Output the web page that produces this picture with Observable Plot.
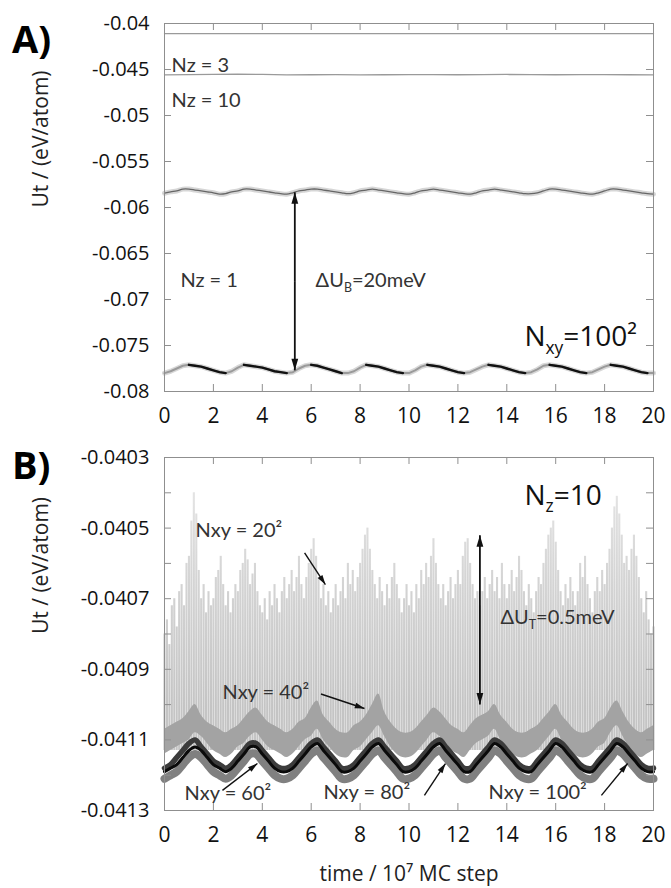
<!DOCTYPE html>
<html><head><meta charset="utf-8">
<script src="https://cdn.jsdelivr.net/npm/d3@7"></script>
<script src="https://cdn.jsdelivr.net/npm/@observablehq/plot@0.6"></script>
<style>
body{margin:0;background:#fff;}
#wrap{position:relative;width:671px;height:888px;overflow:hidden;background:#fff;}
.panel{position:absolute;left:0;}
.letter{position:absolute;font-family:"Open Sans",sans-serif;font-weight:700;font-size:38px;line-height:1;color:#000;z-index:5;}
</style></head><body>
<div id="wrap">
  <div id="pa" class="panel" style="top:0"></div>
  <div id="pb" class="panel" style="top:440px"></div>
  <div class="letter" style="left:12px;top:19px">A)</div>
  <div class="letter" style="left:12px;top:445px">B)</div>
</div>
<script>
// ---------------- DATA ----------------
const xTicks = [0, 2, 4, 6, 8, 10, 12, 14, 16, 18, 20];
const yTicksA = [-0.04, -0.045, -0.05, -0.055, -0.06, -0.065, -0.07, -0.075, -0.08];
const yTicksB = [-0.0403, -0.0405, -0.0407, -0.0409, -0.0411, -0.0413];
const yMinorB = [-0.0403, -0.0404, -0.0405, -0.0406, -0.0407, -0.0408, -0.0409, -0.041, -0.0411, -0.0412, -0.0413];
const yTitle = "Ut / (eV/atom)";
const xTitle = "time / 10⁷ MC step";

// Panel A: Nz = 3 (top flat line), time step 2
const nz3 = [-0.0411, -0.0411, -0.0411, -0.0411, -0.0411, -0.0411, -0.0411, -0.0411, -0.0411, -0.0411, -0.0411];
// Panel A: Nz = 10, time step 1
const nz10 = [-0.04558,-0.04556,-0.04552,-0.0455,-0.04554,-0.04558,-0.04557,-0.04556,-0.04558,-0.04557,-0.04556,
              -0.04555,-0.04557,-0.04556,-0.04554,-0.04556,-0.04557,-0.04555,-0.04556,-0.04557,-0.04558];
// Panel A: Nz = 1 upper and lower curves, time step 0.25
const nz1Top = [
 -0.05845,-0.0583,-0.0582,-0.058,-0.058,-0.0581,-0.0582,-0.0583,-0.0584,-0.05855,
 -0.0585,-0.0583,-0.0582,-0.058,-0.058,-0.0581,-0.0582,-0.0583,-0.0584,-0.0585,
 -0.05855,-0.0584,-0.0582,-0.0581,-0.058,-0.058,-0.0581,-0.0582,-0.0583,-0.0584,
 -0.0585,-0.0584,-0.0582,-0.0581,-0.058,-0.0581,-0.0582,-0.0583,-0.0584,-0.0585,
 -0.05855,-0.0584,-0.0582,-0.0581,-0.058,-0.0581,-0.0582,-0.0583,-0.0584,-0.0585,
 -0.05855,-0.0584,-0.0582,-0.0581,-0.058,-0.0581,-0.0582,-0.0583,-0.0584,-0.0585,
 -0.0585,-0.0584,-0.0582,-0.058,-0.058,-0.0581,-0.0582,-0.0583,-0.0584,-0.0585,
 -0.05855,-0.0584,-0.0582,-0.058,-0.058,-0.0581,-0.0582,-0.0583,-0.0584,-0.0585,
 -0.05855];
const nz1Bot = [
 -0.078,-0.0778,-0.0775,-0.0772,-0.0771,-0.0772,-0.0773,-0.0775,-0.0777,-0.0779,
 -0.078,-0.0778,-0.0774,-0.0771,-0.0772,-0.0773,-0.0774,-0.0776,-0.0778,-0.0779,
 -0.078,-0.0779,-0.0775,-0.0772,-0.0771,-0.0772,-0.0774,-0.0776,-0.0778,-0.078,
 -0.078,-0.0778,-0.0774,-0.0771,-0.0772,-0.0773,-0.0775,-0.0777,-0.0779,-0.078,
 -0.078,-0.0777,-0.0773,-0.0771,-0.0772,-0.0773,-0.0775,-0.0777,-0.0779,-0.078,
 -0.0779,-0.0776,-0.0773,-0.0771,-0.0772,-0.0773,-0.0775,-0.0777,-0.0779,-0.078,
 -0.0779,-0.0776,-0.0772,-0.0771,-0.0772,-0.0773,-0.0775,-0.0777,-0.0779,-0.078,
 -0.0779,-0.0776,-0.0773,-0.0771,-0.0772,-0.0773,-0.0775,-0.0777,-0.0779,-0.078,
 -0.078];

// Panel B: Nxy = 20^2 upper envelope of the noisy cloud, time step 0.1; lower bound of cloud
const lo20 = -0.04113;
const up20 = [
 -0.0408,-0.04076,-0.04083,-0.04072,-0.0407,-0.04078,-0.04068,-0.04066,-0.04072,-0.0406,
 -0.04058,-0.04048,-0.0404,-0.04046,-0.04062,-0.0407,-0.04066,-0.04074,-0.04068,-0.04072,
 -0.0407,-0.04064,-0.04062,-0.04058,-0.04066,-0.04072,-0.04068,-0.04074,-0.0407,-0.04066,
 -0.04068,-0.04062,-0.0406,-0.04056,-0.04059,-0.04066,-0.04063,-0.0406,-0.04068,-0.04072,
 -0.04074,-0.0407,-0.04076,-0.04068,-0.04072,-0.04066,-0.0407,-0.04074,-0.04068,-0.04064,
 -0.0407,-0.04066,-0.04062,-0.04068,-0.04064,-0.04058,-0.04066,-0.0407,-0.04064,-0.0406,
 -0.04056,-0.04053,-0.04058,-0.04064,-0.0407,-0.04066,-0.04072,-0.04068,-0.04074,-0.0407,
 -0.04066,-0.04072,-0.04068,-0.04064,-0.0407,-0.0406,-0.04066,-0.04062,-0.04068,-0.04064,
 -0.0406,-0.04056,-0.04052,-0.0405,-0.04056,-0.04062,-0.04066,-0.0407,-0.04064,-0.04068,
 -0.04072,-0.04066,-0.0407,-0.04064,-0.0406,-0.04066,-0.0407,-0.04074,-0.0407,-0.04066,
 -0.04072,-0.04068,-0.04074,-0.04066,-0.0407,-0.04062,-0.04066,-0.0406,-0.04064,-0.04058,
 -0.04053,-0.0406,-0.04066,-0.0407,-0.04066,-0.04072,-0.04068,-0.04064,-0.0407,-0.04066,
 -0.04062,-0.04066,-0.04058,-0.04054,-0.04053,-0.0406,-0.04066,-0.0407,-0.04068,-0.04072,
 -0.04068,-0.04064,-0.0407,-0.04066,-0.04062,-0.04068,-0.04064,-0.0407,-0.0406,-0.04066,
 -0.0407,-0.04066,-0.04062,-0.04068,-0.04064,-0.04058,-0.04062,-0.04068,-0.04072,-0.04066,
 -0.0407,-0.04074,-0.04068,-0.04064,-0.04066,-0.0406,-0.04056,-0.04052,-0.0405,-0.04048,
 -0.04054,-0.04062,-0.04068,-0.04072,-0.04066,-0.0407,-0.04064,-0.04068,-0.04072,-0.04068,
 -0.0406,-0.04064,-0.04058,-0.04066,-0.0407,-0.04074,-0.04068,-0.04064,-0.04068,-0.04062,
 -0.04066,-0.0406,-0.04056,-0.0405,-0.04044,-0.04041,-0.04046,-0.04052,-0.0406,-0.04058,
 -0.04062,-0.04056,-0.04052,-0.04058,-0.04064,-0.0407,-0.04074,-0.04068,-0.04076,-0.0408,
 -0.04078];
// Panel B: Nxy = 40^2 band (upper / lower edges), time step 0.25
const b40hi = [
 -0.04107,-0.04106,-0.04105,-0.04104,-0.04102,-0.041,-0.04103,-0.04105,-0.04106,-0.04107,
 -0.04108,-0.04107,-0.04106,-0.04104,-0.04102,-0.04101,-0.04103,-0.04105,-0.04106,-0.04107,
 -0.04108,-0.04107,-0.04105,-0.04104,-0.04101,-0.04099,-0.04103,-0.04105,-0.04107,-0.04108,
 -0.04108,-0.04106,-0.04105,-0.04103,-0.041,-0.04097,-0.04102,-0.04105,-0.04107,-0.04108,
 -0.04108,-0.04107,-0.04105,-0.04103,-0.04101,-0.04102,-0.04104,-0.04106,-0.04107,-0.04108,
 -0.04106,-0.04104,-0.04103,-0.04102,-0.041,-0.04103,-0.04105,-0.04107,-0.04108,-0.04108,
 -0.04107,-0.04106,-0.04104,-0.04102,-0.041,-0.04103,-0.04105,-0.04107,-0.04108,-0.04108,
 -0.04107,-0.04105,-0.04104,-0.04101,-0.04099,-0.04102,-0.04105,-0.04107,-0.04108,-0.04107,
 -0.04106];
const b40lo = [
 -0.04114,-0.04113,-0.04112,-0.04111,-0.0411,-0.04108,-0.04109,-0.04111,-0.04113,-0.04114,
 -0.04115,-0.04114,-0.04112,-0.04111,-0.04109,-0.04108,-0.0411,-0.04112,-0.04113,-0.04114,
 -0.04115,-0.04114,-0.04112,-0.0411,-0.04109,-0.04107,-0.0411,-0.04112,-0.04114,-0.04115,
 -0.04115,-0.04113,-0.04112,-0.0411,-0.04108,-0.04106,-0.04109,-0.04112,-0.04114,-0.04115,
 -0.04115,-0.04114,-0.04112,-0.0411,-0.04108,-0.04109,-0.04111,-0.04113,-0.04114,-0.04115,
 -0.04113,-0.04111,-0.0411,-0.04109,-0.04107,-0.0411,-0.04112,-0.04114,-0.04115,-0.04115,
 -0.04114,-0.04113,-0.04111,-0.04109,-0.04107,-0.0411,-0.04112,-0.04114,-0.04115,-0.04115,
 -0.04114,-0.04112,-0.04111,-0.04108,-0.04106,-0.04109,-0.04112,-0.04114,-0.04115,-0.04114,
 -0.04113];
// Panel B: Nxy = 60^2, 80^2, 100^2 (time step 0.25)
const c60 = [
 -0.04118,-0.04117,-0.04115,-0.04113,-0.04111,-0.0411,-0.04112,-0.04114,-0.04116,-0.04117,
 -0.04118,-0.04117,-0.04115,-0.04113,-0.04111,-0.04111,-0.04113,-0.04115,-0.04117,-0.04118,
 -0.04118,-0.04117,-0.04115,-0.04113,-0.04111,-0.0411,-0.04112,-0.04114,-0.04116,-0.04118,
 -0.04118,-0.04117,-0.04115,-0.04113,-0.04111,-0.0411,-0.04112,-0.04114,-0.04116,-0.04118,
 -0.04118,-0.04117,-0.04115,-0.04113,-0.04111,-0.0411,-0.04112,-0.04114,-0.04116,-0.04118,
 -0.04118,-0.04116,-0.04114,-0.04112,-0.0411,-0.04111,-0.04113,-0.04115,-0.04117,-0.04118,
 -0.04118,-0.04116,-0.04114,-0.04112,-0.0411,-0.04111,-0.04113,-0.04115,-0.04117,-0.04118,
 -0.04118,-0.04116,-0.04114,-0.04112,-0.0411,-0.04111,-0.04113,-0.04115,-0.04117,-0.04118,
 -0.04118];
const c80 = [
 -0.04119,-0.04118,-0.04117,-0.04115,-0.04113,-0.04112,-0.04113,-0.04115,-0.04117,-0.04118,
 -0.04119,-0.04118,-0.04116,-0.04114,-0.04112,-0.04112,-0.04114,-0.04116,-0.04118,-0.04119,
 -0.04119,-0.04118,-0.04116,-0.04114,-0.04112,-0.04111,-0.04113,-0.04115,-0.04117,-0.04119,
 -0.04119,-0.04118,-0.04116,-0.04114,-0.04112,-0.04111,-0.04113,-0.04115,-0.04117,-0.04119,
 -0.04119,-0.04118,-0.04116,-0.04114,-0.04112,-0.04111,-0.04113,-0.04115,-0.04117,-0.04119,
 -0.04119,-0.04117,-0.04115,-0.04113,-0.04111,-0.04112,-0.04114,-0.04116,-0.04118,-0.04119,
 -0.04119,-0.04117,-0.04115,-0.04113,-0.04111,-0.04112,-0.04114,-0.04116,-0.04118,-0.04119,
 -0.04119,-0.04117,-0.04115,-0.04113,-0.04111,-0.04112,-0.04114,-0.04116,-0.04118,-0.04119,
 -0.04119];
const c100 = [
 -0.04121,-0.0412,-0.04119,-0.04117,-0.04115,-0.04114,-0.04115,-0.04117,-0.04119,-0.0412,
 -0.04121,-0.0412,-0.04118,-0.04116,-0.04114,-0.04114,-0.04116,-0.04118,-0.0412,-0.04121,
 -0.04121,-0.0412,-0.04118,-0.04116,-0.04114,-0.04113,-0.04115,-0.04117,-0.04119,-0.04121,
 -0.04121,-0.0412,-0.04118,-0.04116,-0.04114,-0.04113,-0.04115,-0.04117,-0.04119,-0.04121,
 -0.04121,-0.0412,-0.04118,-0.04116,-0.04114,-0.04113,-0.04115,-0.04117,-0.04119,-0.04121,
 -0.04121,-0.04119,-0.04117,-0.04115,-0.04113,-0.04114,-0.04116,-0.04118,-0.0412,-0.04121,
 -0.04121,-0.04119,-0.04117,-0.04115,-0.04113,-0.04114,-0.04116,-0.04118,-0.0412,-0.04121,
 -0.04121,-0.04119,-0.04117,-0.04115,-0.04113,-0.04114,-0.04116,-0.04118,-0.0412,-0.04121,
 -0.04121];

// ---------------- LAYOUT ----------------
const W = 671, ML = 164, MR = 18;
const innerW = W - ML - MR;
const A_H = 440, A_MT = 23, A_MB = 49, A_inH = A_H - A_MT - A_MB;
const B_H = 448, B_MT = 17, B_MB = 78, B_inH = B_H - B_MT - B_MB;
const kx = innerW / 20;
const kyA = A_inH / 0.04, kyB = B_inH / 0.001;
const tickLen = 7, frameColor = "#8f8f8f";
const annFont = "Lato, 'Open Sans', sans-serif";
const mainFont = "'Open Sans', sans-serif";
const SVGNS = "http://www.w3.org/2000/svg";

const grid = (n, step) => d3.range(n).map(i => +(i * step).toFixed(2));
const tA2 = grid(nz3.length, 2), tA1 = grid(nz10.length, 1), tQ = grid(nz1Top.length, 0.25), t20 = grid(up20.length, 0.1);

// arrowhead symbol: tip at origin, pointing up
const head = {draw(ctx, size){ const r = Math.sqrt(size / Math.PI); const L = 2.1 * r, w = 0.62 * r;
  ctx.moveTo(0, 0); ctx.lineTo(-w, L); ctx.lineTo(w, L); ctx.closePath(); }};
const ang = (x1, y1, x2, y2, ky) => { const dx = (x2 - x1) * kx, dy = -(y2 - y1) * ky; return Math.atan2(dx, -dy) * 180 / Math.PI; };
function arrowMarks(arrs, ky, width, hr) {
  const heads = arrs.map(a => ({x: a.x2, y: a.y2, r: ang(a.x1, a.y1, a.x2, a.y2, ky)}));
  return [
    Plot.link(arrs, {x1: "x1", y1: "y1", x2: "x2", y2: "y2", stroke: "#111", strokeWidth: width}),
    Plot.dot(heads, {x: "x", y: "y", rotate: "r", symbol: head, r: hr, fill: "#111", stroke: "none"})
  ];
}
const fmt = d => String(d);
function frameMarks(yt, inH) {
  return [
    Plot.tickY(yt, {y: d => d, insetRight: innerW - tickLen, stroke: frameColor}),
    Plot.tickY(yt, {y: d => d, insetLeft: innerW - tickLen, stroke: frameColor}),
    Plot.tickX(xTicks, {x: d => d, insetBottom: inH - tickLen, stroke: frameColor}),
    Plot.tickX(xTicks, {x: d => d, insetTop: inH - tickLen, stroke: frameColor}),
    Plot.frame({stroke: frameColor})
  ];
}
function axes(yt) {
  return [
    Plot.axisY(yt, {tickSize: 0, tickPadding: 15, tickFormat: fmt, label: null, fontSize: 20, fill: "#111"}),
    Plot.axisX(xTicks, {tickSize: 0, tickPadding: 17, tickFormat: fmt, label: null, fontSize: 21, fill: "#111"}),
    Plot.text([yTitle], {text: d => d, frameAnchor: "left", rotate: -90, dx: -123, fontSize: 21, fill: "#222", fontFamily: mainFont})
  ];
}
// gradient definition for the noisy Nxy = 20^2 cloud
function cloudDefs() {
  const defs = document.createElementNS(SVGNS, "defs");
  const lg = document.createElementNS(SVGNS, "linearGradient");
  lg.setAttribute("id", "cloud"); lg.setAttribute("gradientUnits", "userSpaceOnUse");
  lg.setAttribute("x1", 0); lg.setAttribute("x2", 0); lg.setAttribute("y1", B_MT + 20); lg.setAttribute("y2", B_MT + 250);
  [["0", "#e6e6e6"], ["0.45", "#d4d4d4"], ["1", "#c4c4c4"]].forEach(([o, c]) => {
    const s = document.createElementNS(SVGNS, "stop"); s.setAttribute("offset", o); s.setAttribute("stop-color", c); lg.appendChild(s);
  });
  defs.appendChild(lg);
  return defs;
}

// ---------------- PANEL A ----------------
const rows3 = tA2.map((t, i) => ({t, u: nz3[i]}));
const rows10 = tA1.map((t, i) => ({t, u: nz10[i]}));
const rowsTop = tQ.map((t, i) => ({t, u: nz1Top[i]}));
const rowsBot = tQ.map((t, i) => ({t, u: nz1Bot[i],
  dark: (i < nz1Bot.length - 1 && nz1Bot[i + 1] < nz1Bot[i]) || (i > 0 && nz1Bot[i] < nz1Bot[i - 1])}));

const plotA = Plot.plot({
  width: W, height: A_H, marginLeft: ML, marginRight: MR, marginTop: A_MT, marginBottom: A_MB,
  x: {domain: [0, 20]}, y: {domain: [-0.08, -0.04]},
  style: {fontFamily: mainFont, fontSize: "20px", color: "#111", background: "transparent", overflow: "visible"},
  marks: [
    ...axes(yTicksA),
    Plot.line(rows3, {x: "t", y: "u", stroke: "#9a9a9a", strokeWidth: 1.3}),
    Plot.line(rows10, {x: "t", y: "u", stroke: "#9a9a9a", strokeWidth: 1.3}),
    Plot.line(rowsTop, {x: "t", y: "u", stroke: "#d6d6d6", strokeWidth: 5, curve: "catmull-rom"}),
    Plot.line(rowsTop, {x: "t", y: "u", stroke: "#666", strokeWidth: 1.3, curve: "catmull-rom"}),
    Plot.line(rowsBot, {x: "t", y: "u", stroke: "#d8d8d8", strokeWidth: 5}),
    Plot.line(rowsBot, {x: "t", y: "u", stroke: "#9a9a9a", strokeWidth: 2}),
    Plot.line(rowsBot, {x: "t", y: d => d.dark ? d.u : NaN, stroke: "#111", strokeWidth: 2.4}),
    ...arrowMarks([{x1: 5.33, y1: -0.0680, x2: 5.33, y2: -0.05835}, {x1: 5.33, y1: -0.0680, x2: 5.33, y2: -0.0777}], kyA, 1.8, 5.5),
    Plot.text([
      {x: 0.29, y: -0.04457, s: "Nz = 3"},
      {x: 0.29, y: -0.04837, s: "Nz = 10"},
      {x: 0.65, y: -0.06793, s: "Nz = 1"},
      {x: 6.18, y: -0.06793, s: "ΔU_{B}=20meV"}
    ], {x: "x", y: "y", text: "s", textAnchor: "start", fontSize: 20, fontFamily: annFont, fill: "#333"}),
    Plot.text([{x: 14.72, y: -0.07413, s: "N_{xy}=100²"}], {x: "x", y: "y", text: "s", textAnchor: "start", fontSize: 28, fontFamily: mainFont, fill: "#111"}),
    ...frameMarks(yTicksA, A_inH)
  ]
});

// ---------------- PANEL B ----------------
const rows20 = t20.map((t, i) => ({t, u: up20[i]}));
const rowsB = tQ.map((t, i) => ({t, hi: b40hi[i], lo: b40lo[i], c60: c60[i], c80: c80[i], c100: c100[i]}));

const plotB = Plot.plot({
  width: W, height: B_H, marginLeft: ML, marginRight: MR, marginTop: B_MT, marginBottom: B_MB,
  x: {domain: [0, 20]}, y: {domain: [-0.0413, -0.0403]},
  style: {fontFamily: mainFont, fontSize: "20px", color: "#111", background: "transparent", overflow: "visible"},
  marks: [
    () => cloudDefs(),
    ...axes(yTicksB),
    Plot.text([xTitle], {text: d => d, frameAnchor: "bottom", dy: 70, fontSize: 21, fill: "#222", fontFamily: mainFont}),
    Plot.ruleX(rows20, {x: "t", y1: () => lo20, y2: "u", stroke: "url(#cloud)", strokeWidth: 2.1}),
    Plot.areaY(rowsB, {x: "t", y1: "lo", y2: "hi", fill: "#a3a3a3", curve: "catmull-rom"}),
    Plot.line(rowsB, {x: "t", y: "c100", stroke: "#808080", strokeWidth: 8, curve: "catmull-rom"}),
    Plot.line(rowsB, {x: "t", y: "c60", stroke: "#3c3c3c", strokeWidth: 5.5, curve: "catmull-rom"}),
    Plot.line(rowsB, {x: "t", y: "c80", stroke: "#0a0a0a", strokeWidth: 3, curve: "catmull-rom"}),
    ...arrowMarks([
      {x1: 12.9, y1: -0.04076, x2: 12.9, y2: -0.04052},
      {x1: 12.9, y1: -0.04076, x2: 12.9, y2: -0.0410}
    ], kyB, 1.8, 5.5),
    ...arrowMarks([
      {x1: 5.73, y1: -0.04057, x2: 6.58, y2: -0.04066},
      {x1: 6.4, y1: -0.04097, x2: 8.18, y2: -0.041011},
      {x1: 2.37, y1: -0.041243, x2: 3.8, y2: -0.041167},
      {x1: 10.63, y1: -0.041257, x2: 11.49, y2: -0.041167},
      {x1: 17.87, y1: -0.041257, x2: 18.94, y2: -0.041167}
    ], kyB, 1.4, 4.6),
    Plot.text([
      {x: 1.27, y: -0.040507, s: "Nxy = 20²"},
      {x: 2.37, y: -0.040966, s: "Nxy = 40²"},
      {x: 0.82, y: -0.041252, s: "Nxy = 60²"},
      {x: 6.5, y: -0.041249, s: "Nxy = 80²"},
      {x: 13.25, y: -0.041249, s: "Nxy = 100²"},
      {x: 13.74, y: -0.040753, s: "ΔU_{T}=0.5meV"}
    ], {x: "x", y: "y", text: "s", textAnchor: "start", fontSize: 20, fontFamily: annFont, fill: "#333"}),
    Plot.text([{x: 14.72, y: -0.040408, s: "N_{z}=10"}], {x: "x", y: "y", text: "s", textAnchor: "start", fontSize: 28, fontFamily: mainFont, fill: "#111"}),
    ...frameMarks(yMinorB, B_inH)
  ]
});

// subscripts: "a_{b}c"
function subify(svg) {
  svg.querySelectorAll("text").forEach(t => {
    const s = t.textContent, m = s.match(/^(.*?)_\{(.*?)\}(.*)$/);
    if (!m) return;
    const g = t.closest("[font-size]");
    const fs = parseFloat(g ? g.getAttribute("font-size") : 18) || 18;
    t.textContent = "";
    const a = document.createElementNS(SVGNS, "tspan"); a.textContent = m[1]; t.appendChild(a);
    const b = document.createElementNS(SVGNS, "tspan"); b.textContent = m[2];
    b.setAttribute("font-size", (fs * 0.62).toFixed(1)); b.setAttribute("dy", (fs * 0.28).toFixed(1)); t.appendChild(b);
    const c = document.createElementNS(SVGNS, "tspan"); c.textContent = m[3];
    c.setAttribute("dy", (-fs * 0.28).toFixed(1)); t.appendChild(c);
  });
}
subify(plotA); subify(plotB);
document.getElementById("pa").appendChild(plotA);
document.getElementById("pb").appendChild(plotB);
</script>
</body></html>
